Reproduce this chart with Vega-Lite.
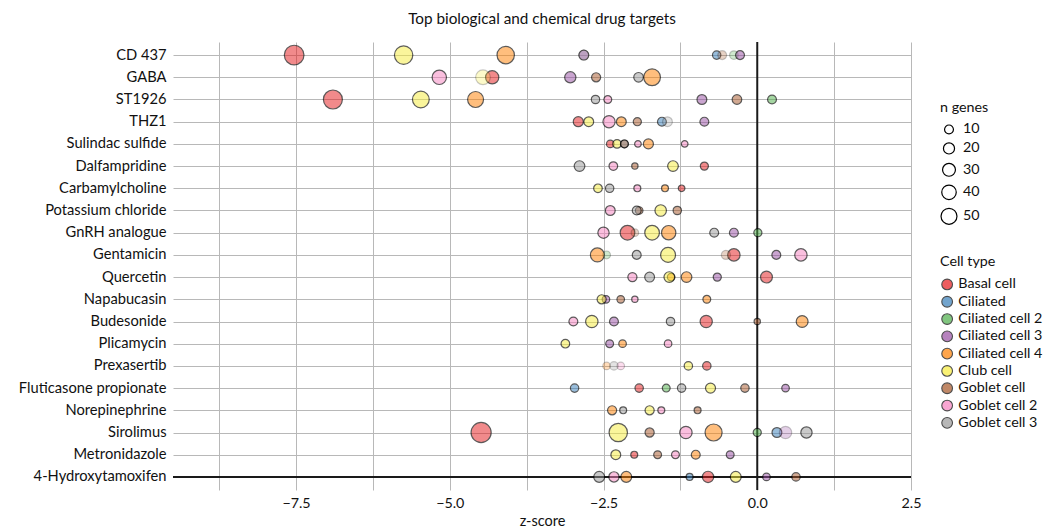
{
  "$schema": "https://vega.github.io/schema/vega-lite/v6.json",
  "autosize": {"type": "none"},
  "padding": {"left": 173, "top": 42, "right": 144, "bottom": 38},
  "width": 738,
  "height": 448,
  "title": {"text": "Top biological and chemical drug targets", "fontSize": 15.3, "fontWeight": "normal", "anchor": "middle", "offset": 14, "color": "#111"},
  "config": {
    "font": "Lato",
    "view": {"stroke": null},
    "axis": {"gridColor": "#b8b8b8", "gridWidth": 1, "domain": false, "ticks": false, "labelColor": "#111", "titleColor": "#111", "labelFontSize": 14, "titleFontSize": 14.5, "titleFontWeight": "normal"},
    "legend": {"titleFontSize": 14.3, "titleFontWeight": "normal", "labelFontSize": 14.3, "titleColor": "#111", "labelColor": "#111"}
  },
  "data": {"values": [
    {"drug": "CD 437", "cell": "Basal cell", "z": -7.53, "n": 80, "sig": "yes"},
    {"drug": "GABA", "cell": "Basal cell", "z": -4.31, "n": 32, "sig": "yes"},
    {"drug": "ST1926", "cell": "Basal cell", "z": -6.90, "n": 74, "sig": "yes"},
    {"drug": "THZ1", "cell": "Basal cell", "z": -2.91, "n": 15, "sig": "yes"},
    {"drug": "Sulindac sulfide", "cell": "Basal cell", "z": -2.39, "n": 5, "sig": "yes"},
    {"drug": "Dalfampridine", "cell": "Basal cell", "z": -0.86, "n": 7, "sig": "yes"},
    {"drug": "Carbamylcholine", "cell": "Basal cell", "z": -1.23, "n": 2, "sig": "yes"},
    {"drug": "GnRH analogue", "cell": "Basal cell", "z": -2.11, "n": 41, "sig": "yes"},
    {"drug": "Gentamicin", "cell": "Basal cell", "z": -0.38, "n": 27, "sig": "yes"},
    {"drug": "Quercetin", "cell": "Basal cell", "z": 0.15, "n": 24, "sig": "yes"},
    {"drug": "Budesonide", "cell": "Basal cell", "z": -0.83, "n": 26, "sig": "yes"},
    {"drug": "Prexasertib", "cell": "Basal cell", "z": -0.82, "n": 8, "sig": "yes"},
    {"drug": "Fluticasone propionate", "cell": "Basal cell", "z": -1.92, "n": 8, "sig": "yes"},
    {"drug": "Sirolimus", "cell": "Basal cell", "z": -4.49, "n": 84, "sig": "yes"},
    {"drug": "Metronidazole", "cell": "Basal cell", "z": -2.00, "n": 3, "sig": "yes"},
    {"drug": "4-Hydroxytamoxifen", "cell": "Basal cell", "z": -0.80, "n": 21, "sig": "yes"},

    {"drug": "CD 437", "cell": "Ciliated", "z": -0.66, "n": 8, "sig": "yes"},
    {"drug": "THZ1", "cell": "Ciliated", "z": -1.55, "n": 10, "sig": "yes"},
    {"drug": "Fluticasone propionate", "cell": "Ciliated", "z": -2.97, "n": 8, "sig": "yes"},
    {"drug": "Sirolimus", "cell": "Ciliated", "z": 0.32, "n": 14, "sig": "yes"},
    {"drug": "4-Hydroxytamoxifen", "cell": "Ciliated", "z": -1.10, "n": 3, "sig": "yes"},

    {"drug": "CD 437", "cell": "Ciliated cell 2", "z": -0.38, "n": 9, "sig": "no"},
    {"drug": "ST1926", "cell": "Ciliated cell 2", "z": 0.24, "n": 10, "sig": "yes"},
    {"drug": "GnRH analogue", "cell": "Ciliated cell 2", "z": 0.01, "n": 7, "sig": "yes"},
    {"drug": "Gentamicin", "cell": "Ciliated cell 2", "z": -2.45, "n": 6, "sig": "no"},
    {"drug": "Fluticasone propionate", "cell": "Ciliated cell 2", "z": -1.48, "n": 6, "sig": "yes"},
    {"drug": "Sirolimus", "cell": "Ciliated cell 2", "z": 0.00, "n": 7, "sig": "yes"},

    {"drug": "CD 437", "cell": "Ciliated cell 3", "z": -2.82, "n": 14, "sig": "yes"},
    {"drug": "CD 437", "cell": "Ciliated cell 3", "z": -0.28, "n": 10, "sig": "yes"},
    {"drug": "GABA", "cell": "Ciliated cell 3", "z": -3.04, "n": 21, "sig": "yes"},
    {"drug": "ST1926", "cell": "Ciliated cell 3", "z": -0.90, "n": 14, "sig": "yes"},
    {"drug": "THZ1", "cell": "Ciliated cell 3", "z": -0.86, "n": 10, "sig": "yes"},
    {"drug": "GnRH analogue", "cell": "Ciliated cell 3", "z": -0.38, "n": 10, "sig": "yes"},
    {"drug": "Gentamicin", "cell": "Ciliated cell 3", "z": 0.31, "n": 10, "sig": "yes"},
    {"drug": "Quercetin", "cell": "Ciliated cell 3", "z": -0.65, "n": 7, "sig": "yes"},
    {"drug": "Napabucasin", "cell": "Ciliated cell 3", "z": -2.46, "n": 5, "sig": "yes"},
    {"drug": "Budesonide", "cell": "Ciliated cell 3", "z": -2.33, "n": 10, "sig": "yes"},
    {"drug": "Plicamycin", "cell": "Ciliated cell 3", "z": -2.40, "n": 6, "sig": "yes"},
    {"drug": "Fluticasone propionate", "cell": "Ciliated cell 3", "z": 0.46, "n": 5, "sig": "yes"},
    {"drug": "Sirolimus", "cell": "Ciliated cell 3", "z": 0.46, "n": 27, "sig": "no"},
    {"drug": "Metronidazole", "cell": "Ciliated cell 3", "z": -0.44, "n": 6, "sig": "yes"},
    {"drug": "4-Hydroxytamoxifen", "cell": "Ciliated cell 3", "z": 0.15, "n": 5, "sig": "yes"},

    {"drug": "CD 437", "cell": "Ciliated cell 4", "z": -4.09, "n": 61, "sig": "yes"},
    {"drug": "GABA", "cell": "Ciliated cell 4", "z": -1.71, "n": 56, "sig": "yes"},
    {"drug": "ST1926", "cell": "Ciliated cell 4", "z": -4.58, "n": 50, "sig": "yes"},
    {"drug": "THZ1", "cell": "Ciliated cell 4", "z": -2.21, "n": 14, "sig": "yes"},
    {"drug": "Sulindac sulfide", "cell": "Ciliated cell 4", "z": -1.77, "n": 15, "sig": "yes"},
    {"drug": "Carbamylcholine", "cell": "Ciliated cell 4", "z": -1.50, "n": 3, "sig": "yes"},
    {"drug": "GnRH analogue", "cell": "Ciliated cell 4", "z": -1.44, "n": 39, "sig": "yes"},
    {"drug": "Gentamicin", "cell": "Ciliated cell 4", "z": -2.60, "n": 36, "sig": "yes"},
    {"drug": "Quercetin", "cell": "Ciliated cell 4", "z": -1.40, "n": 5, "sig": "yes"},
    {"drug": "Quercetin", "cell": "Ciliated cell 4", "z": -1.15, "n": 18, "sig": "yes"},
    {"drug": "Napabucasin", "cell": "Ciliated cell 4", "z": -0.82, "n": 6, "sig": "yes"},
    {"drug": "Budesonide", "cell": "Ciliated cell 4", "z": 0.73, "n": 24, "sig": "yes"},
    {"drug": "Plicamycin", "cell": "Ciliated cell 4", "z": -2.19, "n": 5, "sig": "yes"},
    {"drug": "Prexasertib", "cell": "Ciliated cell 4", "z": -2.45, "n": 5, "sig": "no"},
    {"drug": "Norepinephrine", "cell": "Ciliated cell 4", "z": -2.36, "n": 11, "sig": "yes"},
    {"drug": "Sirolimus", "cell": "Ciliated cell 4", "z": -0.71, "n": 58, "sig": "yes"},
    {"drug": "Metronidazole", "cell": "Ciliated cell 4", "z": -1.00, "n": 10, "sig": "yes"},
    {"drug": "4-Hydroxytamoxifen", "cell": "Ciliated cell 4", "z": -2.13, "n": 19, "sig": "yes"},

    {"drug": "CD 437", "cell": "Club cell", "z": -5.75, "n": 69, "sig": "yes"},
    {"drug": "GABA", "cell": "Club cell", "z": -4.46, "n": 41, "sig": "no"},
    {"drug": "ST1926", "cell": "Club cell", "z": -5.47, "n": 56, "sig": "yes"},
    {"drug": "THZ1", "cell": "Club cell", "z": -2.74, "n": 14, "sig": "yes"},
    {"drug": "Sulindac sulfide", "cell": "Club cell", "z": -2.28, "n": 9, "sig": "yes"},
    {"drug": "Dalfampridine", "cell": "Club cell", "z": -1.37, "n": 18, "sig": "yes"},
    {"drug": "Carbamylcholine", "cell": "Club cell", "z": -2.59, "n": 9, "sig": "yes"},
    {"drug": "Potassium chloride", "cell": "Club cell", "z": -1.57, "n": 22, "sig": "yes"},
    {"drug": "GnRH analogue", "cell": "Club cell", "z": -1.71, "n": 41, "sig": "yes"},
    {"drug": "Gentamicin", "cell": "Club cell", "z": -1.45, "n": 43, "sig": "yes"},
    {"drug": "Quercetin", "cell": "Club cell", "z": -1.43, "n": 18, "sig": "yes"},
    {"drug": "Napabucasin", "cell": "Club cell", "z": -2.53, "n": 11, "sig": "yes"},
    {"drug": "Budesonide", "cell": "Club cell", "z": -2.69, "n": 27, "sig": "yes"},
    {"drug": "Plicamycin", "cell": "Club cell", "z": -3.12, "n": 9, "sig": "yes"},
    {"drug": "Prexasertib", "cell": "Club cell", "z": -1.12, "n": 8, "sig": "yes"},
    {"drug": "Fluticasone propionate", "cell": "Club cell", "z": -0.76, "n": 15, "sig": "yes"},
    {"drug": "Norepinephrine", "cell": "Club cell", "z": -1.75, "n": 11, "sig": "yes"},
    {"drug": "Sirolimus", "cell": "Club cell", "z": -2.26, "n": 69, "sig": "yes"},
    {"drug": "Metronidazole", "cell": "Club cell", "z": -2.30, "n": 14, "sig": "yes"},
    {"drug": "4-Hydroxytamoxifen", "cell": "Club cell", "z": -0.35, "n": 19, "sig": "yes"},

    {"drug": "CD 437", "cell": "Goblet cell", "z": -0.57, "n": 10, "sig": "no"},
    {"drug": "GABA", "cell": "Goblet cell", "z": -2.62, "n": 11, "sig": "yes"},
    {"drug": "ST1926", "cell": "Goblet cell", "z": -0.33, "n": 13, "sig": "yes"},
    {"drug": "THZ1", "cell": "Goblet cell", "z": -1.95, "n": 7, "sig": "yes"},
    {"drug": "Sulindac sulfide", "cell": "Goblet cell", "z": -2.16, "n": 6, "sig": "yes"},
    {"drug": "Dalfampridine", "cell": "Goblet cell", "z": -1.99, "n": 1, "sig": "yes"},
    {"drug": "Potassium chloride", "cell": "Goblet cell", "z": -1.92, "n": 5, "sig": "yes"},
    {"drug": "Potassium chloride", "cell": "Goblet cell", "z": -1.30, "n": 8, "sig": "yes"},
    {"drug": "GnRH analogue", "cell": "Goblet cell", "z": -1.99, "n": 5, "sig": "no"},
    {"drug": "Gentamicin", "cell": "Goblet cell", "z": -0.51, "n": 11, "sig": "no"},
    {"drug": "Napabucasin", "cell": "Goblet cell", "z": -2.22, "n": 5, "sig": "yes"},
    {"drug": "Budesonide", "cell": "Goblet cell", "z": 0.00, "n": 1, "sig": "yes"},
    {"drug": "Fluticasone propionate", "cell": "Goblet cell", "z": -0.20, "n": 8, "sig": "yes"},
    {"drug": "Norepinephrine", "cell": "Goblet cell", "z": -0.97, "n": 3, "sig": "yes"},
    {"drug": "Sirolimus", "cell": "Goblet cell", "z": -1.75, "n": 11, "sig": "yes"},
    {"drug": "Metronidazole", "cell": "Goblet cell", "z": -1.62, "n": 6, "sig": "yes"},
    {"drug": "4-Hydroxytamoxifen", "cell": "Goblet cell", "z": 0.63, "n": 8, "sig": "yes"},

    {"drug": "GABA", "cell": "Goblet cell 2", "z": -5.17, "n": 39, "sig": "yes"},
    {"drug": "ST1926", "cell": "Goblet cell 2", "z": -2.43, "n": 6, "sig": "yes"},
    {"drug": "THZ1", "cell": "Goblet cell 2", "z": -2.41, "n": 26, "sig": "yes"},
    {"drug": "Sulindac sulfide", "cell": "Goblet cell 2", "z": -1.94, "n": 2, "sig": "yes"},
    {"drug": "Sulindac sulfide", "cell": "Goblet cell 2", "z": -1.18, "n": 2, "sig": "yes"},
    {"drug": "Dalfampridine", "cell": "Goblet cell 2", "z": -2.34, "n": 9, "sig": "yes"},
    {"drug": "Carbamylcholine", "cell": "Goblet cell 2", "z": -1.95, "n": 3, "sig": "yes"},
    {"drug": "Potassium chloride", "cell": "Goblet cell 2", "z": -2.39, "n": 14, "sig": "yes"},
    {"drug": "GnRH analogue", "cell": "Goblet cell 2", "z": -2.50, "n": 21, "sig": "yes"},
    {"drug": "Gentamicin", "cell": "Goblet cell 2", "z": 0.71, "n": 27, "sig": "yes"},
    {"drug": "Quercetin", "cell": "Goblet cell 2", "z": -2.03, "n": 11, "sig": "yes"},
    {"drug": "Napabucasin", "cell": "Goblet cell 2", "z": -1.99, "n": 1, "sig": "yes"},
    {"drug": "Budesonide", "cell": "Goblet cell 2", "z": -2.99, "n": 10, "sig": "yes"},
    {"drug": "Plicamycin", "cell": "Goblet cell 2", "z": -1.45, "n": 5, "sig": "yes"},
    {"drug": "Prexasertib", "cell": "Goblet cell 2", "z": -2.22, "n": 5, "sig": "no"},
    {"drug": "Norepinephrine", "cell": "Goblet cell 2", "z": -1.56, "n": 3, "sig": "yes"},
    {"drug": "Sirolimus", "cell": "Goblet cell 2", "z": -1.16, "n": 27, "sig": "yes"},
    {"drug": "Metronidazole", "cell": "Goblet cell 2", "z": -1.33, "n": 6, "sig": "yes"},
    {"drug": "4-Hydroxytamoxifen", "cell": "Goblet cell 2", "z": -2.33, "n": 16, "sig": "yes"},

    {"drug": "CD 437", "cell": "Goblet cell 3", "z": -2.82, "n": 14, "sig": "no"},
    {"drug": "GABA", "cell": "Goblet cell 3", "z": -1.93, "n": 13, "sig": "yes"},
    {"drug": "ST1926", "cell": "Goblet cell 3", "z": -2.63, "n": 8, "sig": "yes"},
    {"drug": "THZ1", "cell": "Goblet cell 3", "z": -1.46, "n": 14, "sig": "no"},
    {"drug": "Sulindac sulfide", "cell": "Goblet cell 3", "z": -2.16, "n": 6, "sig": "yes"},
    {"drug": "Dalfampridine", "cell": "Goblet cell 3", "z": -2.89, "n": 18, "sig": "yes"},
    {"drug": "Carbamylcholine", "cell": "Goblet cell 3", "z": -2.40, "n": 8, "sig": "yes"},
    {"drug": "Potassium chloride", "cell": "Goblet cell 3", "z": -1.96, "n": 10, "sig": "yes"},
    {"drug": "GnRH analogue", "cell": "Goblet cell 3", "z": -0.70, "n": 10, "sig": "yes"},
    {"drug": "Gentamicin", "cell": "Goblet cell 3", "z": -1.96, "n": 10, "sig": "yes"},
    {"drug": "Quercetin", "cell": "Goblet cell 3", "z": -1.75, "n": 14, "sig": "yes"},
    {"drug": "Budesonide", "cell": "Goblet cell 3", "z": -1.41, "n": 8, "sig": "yes"},
    {"drug": "Prexasertib", "cell": "Goblet cell 3", "z": -2.33, "n": 8, "sig": "no"},
    {"drug": "Fluticasone propionate", "cell": "Goblet cell 3", "z": -1.23, "n": 8, "sig": "yes"},
    {"drug": "Norepinephrine", "cell": "Goblet cell 3", "z": -2.18, "n": 3, "sig": "yes"},
    {"drug": "Sirolimus", "cell": "Goblet cell 3", "z": 0.80, "n": 21, "sig": "yes"},
    {"drug": "4-Hydroxytamoxifen", "cell": "Goblet cell 3", "z": -2.57, "n": 19, "sig": "yes"}
  ]},
  "layer": [
    {
      "data": {"values": [{}]},
      "mark": {"type": "rule", "color": "#1a1a1a", "strokeWidth": 2},
      "encoding": {"x": {"datum": 0, "type": "quantitative"}}
    },
    {
      "data": {"values": [{}]},
      "mark": {"type": "rule", "color": "#1a1a1a", "strokeWidth": 2},
      "encoding": {"y": {"datum": "4-Hydroxytamoxifen", "type": "nominal"}}
    },
    {
      "mark": {"type": "circle", "stroke": "black", "strokeWidth": 1.2},
      "encoding": {
        "x": {
          "field": "z", "type": "quantitative",
          "scale": {"domain": [-9.5, 2.5], "nice": false, "zero": false},
          "axis": {
            "title": "z-score",
            "values": [-8.75, -7.5, -6.25, -5, -3.75, -2.5, -1.25, 0, 1.25, 2.5],
            "labelExpr": "abs(datum.value % 2.5) < 0.001 ? format(datum.value, '.1f') : ''",
            "labelOverlap": false, "labelFlush": false,
            "grid": true, "labelPadding": 6, "titlePadding": 4, "labelFontSize": 14.3
          }
        },
        "y": {
          "field": "drug", "type": "nominal",
          "scale": {"type": "point", "padding": 0.59, "domain": ["CD 437", "GABA", "ST1926", "THZ1", "Sulindac sulfide", "Dalfampridine", "Carbamylcholine", "Potassium chloride", "GnRH analogue", "Gentamicin", "Quercetin", "Napabucasin", "Budesonide", "Plicamycin", "Prexasertib", "Fluticasone propionate", "Norepinephrine", "Sirolimus", "Metronidazole", "4-Hydroxytamoxifen"]},
          "axis": {"title": null, "grid": true, "labelPadding": 7, "labelFontSize": 14.7}
        },
        "color": {
          "field": "cell", "type": "nominal",
          "scale": {
            "domain": ["Basal cell", "Ciliated", "Ciliated cell 2", "Ciliated cell 3", "Ciliated cell 4", "Club cell", "Goblet cell", "Goblet cell 2", "Goblet cell 3"],
            "range": ["#e41a1c", "#377eb8", "#4daf4a", "#984ea3", "#ff7f00", "#f7ec3a", "#a65628", "#f781bf", "#999999"]
          },
          "legend": {
            "title": "Cell type", "orient": "none", "legendX": 767, "legendY": 213,
            "symbolType": "circle", "symbolSize": 115, "symbolStrokeColor": "black", "symbolStrokeWidth": 1.1,
            "rowPadding": 1.3, "titlePadding": 8, "labelOffset": 4,
            "encode": {"symbols": {"update": {"fillOpacity": {"value": 0.72}, "strokeOpacity": {"value": 0.9}, "stroke": {"value": "black"}}}}
          }
        },
        "size": {
          "field": "n", "type": "quantitative",
          "scale": {"domain": [0, 100], "range": [35, 474], "zero": false},
          "legend": {
            "title": "n genes", "orient": "none", "legendX": 767, "legendY": 59,
            "values": [10, 20, 30, 40, 50], "symbolType": "circle",
            "symbolFillColor": "white", "symbolStrokeColor": "black", "symbolStrokeWidth": 1.2, "symbolOpacity": 1,
            "rowPadding": 3, "titlePadding": 7, "labelOffset": 5,
            "encode": {"symbols": {"enter": {"fill": {"value": "white"}, "fillOpacity": {"value": 1}}, "update": {"fill": {"value": "white"}, "fillOpacity": {"value": 1}, "stroke": {"value": "black"}, "strokeOpacity": {"value": 1}, "strokeWidth": {"value": 1.2}, "opacity": {"value": 1}}}}
          }
        },
        "fillOpacity": {"field": "sig", "type": "nominal", "scale": {"domain": ["yes", "no"], "range": [0.72, 0.38]}, "legend": null},
        "strokeOpacity": {"field": "sig", "type": "nominal", "scale": {"domain": ["yes", "no"], "range": [0.9, 0.3]}, "legend": null}
      }
    }
  ]
}
